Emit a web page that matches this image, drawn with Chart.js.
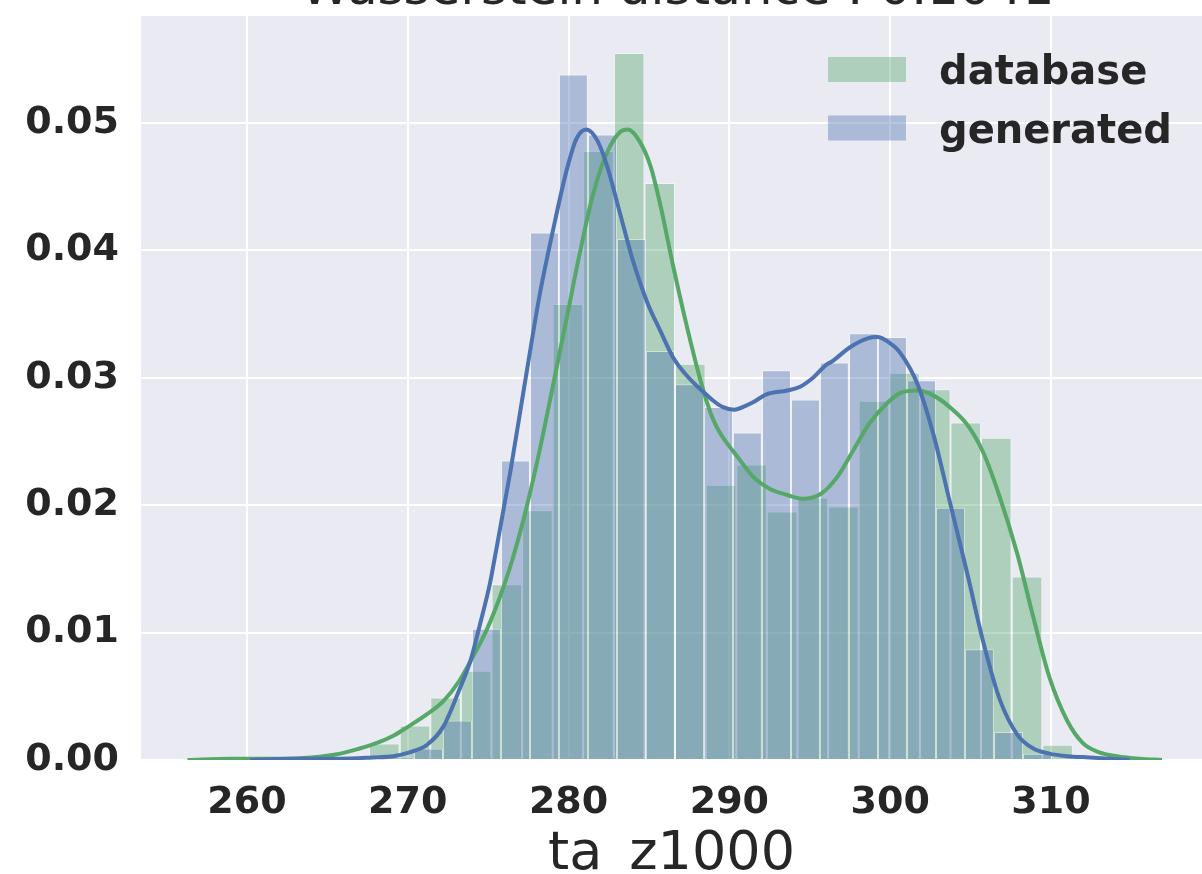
<!DOCTYPE html>
<html>
<head>
<meta charset="utf-8">
<title>ta_z1000</title>
<script src="https://cdn.jsdelivr.net/npm/chart.js@4.4.1/dist/chart.umd.min.js"></script>
<style>
  html, body { margin: 0; padding: 0; background: #fff; }
  /* the figure is cropped: title cut at the top, underscore cut at the bottom */
  #frame { position: relative; width: 1202px; height: 874px; overflow: hidden; }
  #holder { position: absolute; left: 0; top: -60px; width: 1202px; height: 942px; }
</style>
</head>
<body>
<div id="frame"><div id="holder"><canvas id="chart"></canvas></div></div>
<script>
const TITLE = "Wasserstein distance : 0.1041";
const X_LABEL = "ta_z1000";
const SERIES = ["database", "generated"];

// histogram bins (centre of each bin) and densities
const dbBinCenters = [268.54, 270.45, 272.35, 274.25, 276.16, 278.06, 279.96, 281.86, 283.77, 285.67, 287.57, 289.48,
  291.38, 293.28, 295.19, 297.09, 298.99, 300.89, 302.80, 304.70, 306.60, 308.51, 310.41];
const dbDensity = [0.0013, 0.0027, 0.0049, 0.0070, 0.0138, 0.0196, 0.0358, 0.0478, 0.0555, 0.0453, 0.0311, 0.0216,
  0.0232, 0.0195, 0.0206, 0.0199, 0.0282, 0.0304, 0.0291, 0.0265, 0.0253, 0.0144, 0.0012];

const genBinCenters = [269.48, 271.29, 273.09, 274.89, 276.70, 278.50, 280.30, 282.11, 283.91, 285.71, 287.52, 289.32,
  291.12, 292.93, 294.73, 296.53, 298.34, 300.14, 301.95, 303.75, 305.55, 307.36, 309.16];
const genDensity = [0.0002, 0.0009, 0.0031, 0.0103, 0.0235, 0.0414, 0.0538, 0.0491, 0.0409, 0.0321, 0.0295, 0.0277,
  0.0257, 0.0306, 0.0283, 0.0312, 0.0335, 0.0332, 0.0298, 0.0198, 0.0087, 0.0022, 0.0005];

// kde curves
const dbKdeX = [256.3, 259, 262, 264, 265.8, 267.0, 268.0, 269.1, 270.0, 271.2, 272.2, 273.2, 274.05, 274.9, 275.7,
  276.5, 277.4, 278.2, 279.0, 279.9, 280.7, 281.5, 282.4, 283.2, 283.7, 284.4, 285.1, 285.7, 286.5, 287.4, 288.2,
  288.6, 289.0, 289.4, 290.5, 291.5, 292.5, 293.6, 294.6, 295.7, 296.7, 297.7, 298.7, 299.8, 300.6, 301.7, 302.7,
  303.7, 304.8, 305.8, 306.8, 307.9, 308.9, 309.9, 311.0, 312.0, 313.0, 314.1, 315.5, 316.9];
const dbKdeY = [0.0000, 0.0001, 0.0001, 0.0002, 0.0005, 0.0009, 0.0013, 0.0019, 0.0026, 0.0036, 0.0046, 0.0062, 0.0081,
  0.0102, 0.0127, 0.0157, 0.0199, 0.0243, 0.0292, 0.0348, 0.0398, 0.0443, 0.0477, 0.0493, 0.0495, 0.0486, 0.0466,
  0.0436, 0.0388, 0.0338, 0.0298, 0.0281, 0.0267, 0.0257, 0.0238, 0.0222, 0.0213, 0.0208, 0.0205, 0.0209, 0.0222,
  0.0243, 0.0264, 0.0280, 0.0288, 0.0290, 0.0286, 0.0277, 0.0263, 0.0241, 0.0207, 0.0162, 0.0112, 0.0065, 0.0031,
  0.0013, 0.0006, 0.0003, 0.0001, 0.0000];

const genKdeX = [260.2, 263, 265.8, 267.8, 269.1, 270.1, 271.2, 272.2, 273.2, 273.9, 274.5, 275.1, 275.5, 276.4, 277.4,
  278.2, 279.0, 279.9, 280.5, 281.1, 281.8, 282.4, 283.2, 284.0, 284.9, 285.7, 286.5, 287.4, 288.2, 289.0, 289.6,
  290.3, 291.0, 291.5, 292.3, 293.6, 294.4, 295.2, 296.0, 296.4, 297.5, 298.6, 299.2, 299.9, 300.6, 301.7, 302.7,
  303.7, 304.8, 305.8, 306.8, 307.9, 308.9, 309.9, 311.0, 312.4, 314.9];
const genKdeY = [0.0000, 0.0001, 0.0001, 0.0002, 0.0003, 0.0006, 0.0012, 0.0026, 0.0055, 0.0078, 0.0107, 0.0138,
  0.0165, 0.0228, 0.0305, 0.0365, 0.0414, 0.0464, 0.0488, 0.0495, 0.0486, 0.0466, 0.0429, 0.0392, 0.0359, 0.0337,
  0.0316, 0.0301, 0.0291, 0.0282, 0.0277, 0.0275, 0.0278, 0.0281, 0.0287, 0.0290, 0.0293, 0.0300, 0.0310, 0.0313,
  0.0324, 0.0331, 0.0332, 0.0328, 0.0320, 0.0295, 0.0255, 0.0203, 0.0146, 0.0092, 0.0048, 0.0020, 0.0009, 0.0005,
  0.0003, 0.0002, 0.0000];

const FONT = "'DejaVu Sans', sans-serif";
const TEXT = "#262626";
const GREEN = "#55A868";
const BLUE = "#4C72B0";

const points = (xs, ys) => xs.map((x, i) => ({ x: x, y: ys[i] }));

// seaborn darkgrid background behind the axes
const plotBackground = {
  id: "plotBackground",
  beforeDraw(chart) {
    const { ctx, chartArea: a } = chart;
    ctx.save();
    ctx.fillStyle = "#EAEAF2";
    ctx.fillRect(a.left, a.top, a.right - a.left, a.bottom - a.top);
    ctx.restore();
  },
};

// title is centred over the axes (matplotlib style), mostly above the visible frame
const axesTitle = {
  id: "axesTitle",
  afterDraw(chart) {
    const { ctx, chartArea: a } = chart;
    ctx.save();
    ctx.font = "50px " + FONT;
    ctx.fillStyle = TEXT;
    ctx.textAlign = "center";
    ctx.textBaseline = "alphabetic";
    ctx.fillText(TITLE, (a.left + a.right) / 2 + 6, a.top - 12);
    ctx.restore();
  },
};

// legend sits inside the axes, top right
const insideLegend = {
  id: "insideLegend",
  afterDraw(chart) {
    const { ctx, chartArea: a } = chart;
    ctx.save();
    ctx.font = "bold 40px " + FONT;
    ctx.textBaseline = "alphabetic";
    [0, 1].forEach((i) => {
      const ds = chart.data.datasets[i];
      const top = a.top + 41 + i * 58.5;
      ctx.fillStyle = ds.backgroundColor;
      ctx.fillRect(a.right - 374, top, 78, 25);
      ctx.fillStyle = TEXT;
      ctx.fillText(ds.label, a.right - 263, top + 27);
    });
    ctx.restore();
  },
};

const X_MIN = 253.41;
const X_MAX = 319.39;

const histStyle = {
  type: "bar",
  borderColor: "rgba(255,255,255,0.4)",
  borderWidth: 1,
  barPercentage: 1,
  categoryPercentage: 1,
  grouped: false,
  inflateAmount: 0,
};

const kdeStyle = {
  type: "line",
  borderWidth: 4,
  pointRadius: 0,
  fill: false,
  cubicInterpolationMode: "monotone",
};

new Chart(document.getElementById("chart"), {
  type: "bar",
  data: {
    datasets: [
      Object.assign({}, histStyle, {
        label: SERIES[0],
        xAxisID: "x",
        data: points(dbBinCenters, dbDensity),
        backgroundColor: "rgba(85,168,104,0.4)",
        order: 4,
      }),
      Object.assign({}, histStyle, {
        label: SERIES[1],
        xAxisID: "x2", // own axis so the bar width follows its own bins
        data: points(genBinCenters, genDensity),
        backgroundColor: "rgba(76,114,176,0.4)",
        order: 3,
      }),
      Object.assign({}, kdeStyle, {
        label: SERIES[0] + " kde",
        xAxisID: "x",
        data: points(dbKdeX, dbKdeY),
        borderColor: GREEN,
        order: 2,
      }),
      Object.assign({}, kdeStyle, {
        label: SERIES[1] + " kde",
        xAxisID: "x",
        data: points(genKdeX, genKdeY),
        borderColor: BLUE,
        order: 1,
      }),
    ],
  },
  options: {
    responsive: true,
    maintainAspectRatio: false,
    animation: false,
    devicePixelRatio: 1,
    layout: { padding: { top: 76, left: 0, right: 0, bottom: 0 } },
    plugins: {
      legend: { display: false },
      tooltip: { enabled: false },
      title: { display: false },
    },
    scales: {
      x: {
        type: "linear",
        min: X_MIN,
        max: X_MAX,
        offset: false,
        border: { display: false },
        grid: { color: "#ffffff", lineWidth: 2, drawTicks: false, offset: false },
        ticks: {
          stepSize: 10,
          includeBounds: false,
          padding: 24,
          color: TEXT,
          font: { family: FONT, size: 38, weight: "bold", lineHeight: 1 },
        },
        title: {
          display: true,
          text: X_LABEL,
          color: TEXT,
          font: { family: FONT, size: 54, weight: "normal", lineHeight: 1 },
          padding: 0,
        },
        afterFit: (scale) => { scale.height = 122; },
      },
      x2: {
        type: "linear",
        axis: "x",
        position: "bottom",
        display: false,
        min: X_MIN,
        max: X_MAX,
        offset: false,
        grid: { offset: false },
        ticks: { stepSize: 10, includeBounds: false },
      },
      y: {
        min: 0,
        max: 0.0584,
        border: { display: false },
        grid: { color: "#ffffff", lineWidth: 2, drawTicks: false },
        ticks: {
          stepSize: 0.01,
          includeBounds: false,
          padding: 22,
          color: TEXT,
          font: { family: FONT, size: 38, weight: "bold", lineHeight: 1 },
          callback: (v) => v.toFixed(2),
        },
        afterFit: (scale) => { scale.width = 141; },
      },
    },
  },
  plugins: [plotBackground, axesTitle, insideLegend],
});
</script>
</body>
</html>
